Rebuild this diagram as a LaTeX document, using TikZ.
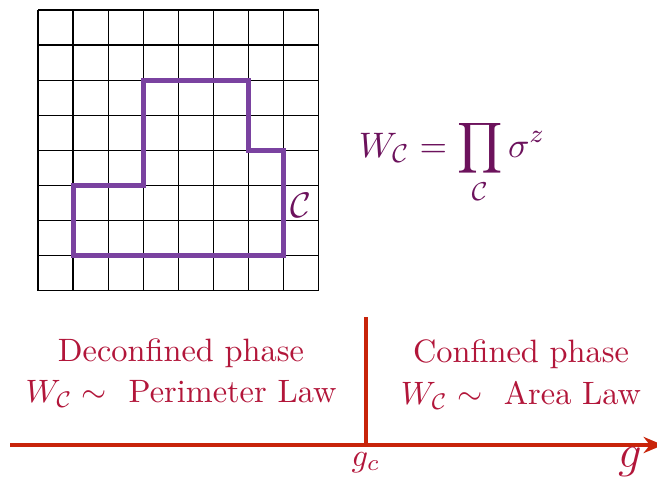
\documentclass[tikz,border=0pt]{standalone}
\usepackage{amsmath}
\usepackage{tikz}
\usetikzlibrary{
    arrows.meta,
    positioning,
    calc
}
\definecolor{loopviolet}{RGB}{122,66,160}
\definecolor{labelviolet}{RGB}{108,18,92}
\definecolor{phasered}{RGB}{178,22,58}
\definecolor{axisred}{RGB}{200,36,10}
\tikzset{
    lattice/.style={
        draw=black,
        line width=0.4pt
    },
    wilson/.style={
        draw=loopviolet,
        line width=1.5pt,
        line join=miter
    },
    phase/.style={
        text=phasered,
        align=center,
        inner sep=1pt
    },
    axis/.style={
        -{Stealth[length=6pt,width=5pt]},
        draw=axisred,
        line width=1.1pt
    }
}

\begin{document}
\begin{tikzpicture}[
    x=0.309pt, y=-0.309pt,
    node distance=1.5pt
]
    \useasboundingbox (0,0) rectangle (657,480);

    % Lattice
    \foreach \k in {0,...,8} {
        \draw[lattice] ({38+35.1*\k},10) -- ({38+35.1*\k},290.8);
        \draw[lattice] (38,{10+35.1*\k}) -- (318.8,{10+35.1*\k});
    }

    % Wilson loop
    \draw[wilson] (73.1,255.7) -- (73.1,185.5) -- (143.3,185.5) -- (143.3,80.2)
        -- (248.6,80.2) -- (248.6,150.4) -- (283.7,150.4) -- (283.7,255.7) -- cycle;
    \node[text=labelviolet, font=\fontsize{11}{13}\selectfont] (cloop) at (301,205) {$\mathcal{C}$};

    % Operator
    \node[text=labelviolet, font=\fontsize{11}{13}\selectfont] (wilsonop) at (452,162)
        {$\displaystyle W_{\mathcal{C}} = \prod_{\mathcal{C}} \sigma^z$};

    % Phase diagram
    \coordinate (axleft) at (10,445);
    \coordinate (axright) at (663,445);
    \coordinate (gcbase) at (366,445);
    \coordinate (gctop) at (366,317);
    \draw[axis] (axleft) -- (axright);
    \draw[axisred, line width=1.1pt] (gcbase) -- (gctop);

    \node[phase] (decon) at (181,353) {Deconfined phase};
    \node[phase, below=of decon] (perim) {$W_{\mathcal{C}} \sim$ \ Perimeter Law};
    \node[phase] (conf) at (521,354) {Confined phase};
    \node[phase, below=of conf] (area) {$W_{\mathcal{C}} \sim$ \ Area Law};

    \node[phase, below=1pt of gcbase] (gclabel) {$g_c$};
    \node[phase, font=\Large] (glabel) at (630,462) {$g$};
\end{tikzpicture}
\end{document}
